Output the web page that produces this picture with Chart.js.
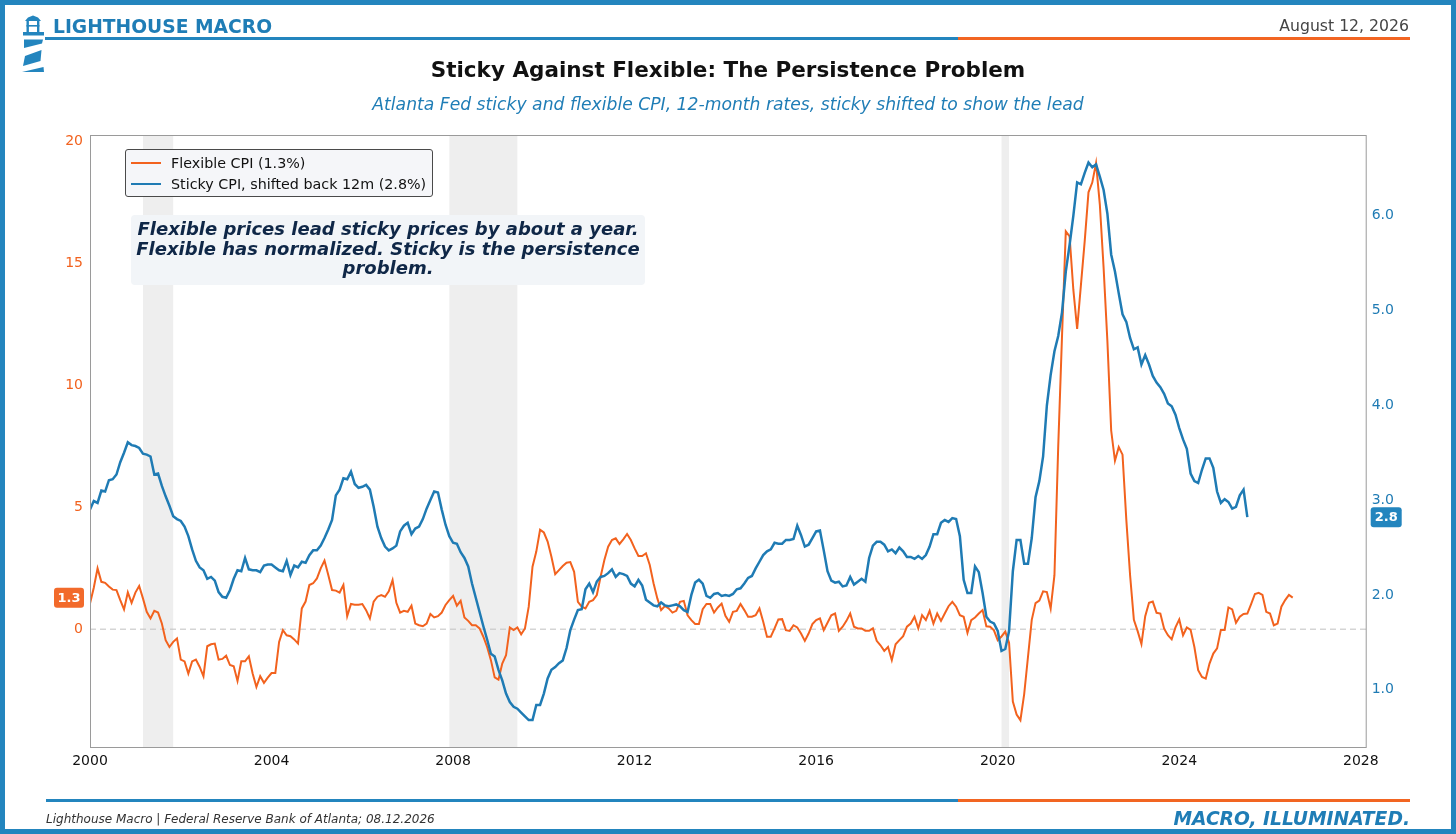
<!DOCTYPE html>
<html>
<head>
<meta charset="utf-8">
<title>Sticky Against Flexible</title>
<script src="https://cdn.jsdelivr.net/npm/chart.js@4.4.1/dist/chart.umd.min.js"></script>
<style>
  html, body { margin: 0; padding: 0; background: #fff; }
  body { width: 1456px; height: 834px; position: relative; overflow: hidden; font-family: 'DejaVu Sans', sans-serif; }
  #wrap { position: absolute; left: 0; top: 0; width: 1456px; height: 834px; }
  .abs { position: absolute; white-space: nowrap; line-height: 1; }
  #frame { position: absolute; left: 0; top: 0; width: 1456px; height: 834px; box-sizing: border-box; border: 5px solid #2385BE; pointer-events: none; }
  .rule { position: absolute; height: 3px; }
  #legend { position: absolute; left: 125px; top: 149px; width: 306px; height: 46px; border: 1px solid #4a4a4a; border-radius: 3px; background: rgba(244,246,249,0.95); }
  .legRow { position: absolute; left: 5px; height: 20px; font-size: 14.3px; color: #111; line-height: 20px; white-space: nowrap; }
  .legRow span.sw { display: inline-block; width: 30px; height: 2.5px; vertical-align: middle; margin-right: 10px; position: relative; top: -1px; }
  #note { position: absolute; left: 131px; top: 215px; width: 514px; height: 70px; background: #f2f5f8; border-radius: 4px; }
  #noteText { position: absolute; left: 131px; top: 219px; width: 514px; text-align: center; font-size: 18px; font-weight: bold; font-style: italic; color: #0f2747; line-height: 19.6px; }
</style>
</head>
<body>
<div id="wrap"><canvas id="chartPicture" width="1456" height="834"></canvas></div>

<svg class="abs" style="left:0;top:0" width="60" height="80" viewBox="0 0 60 80">
  <g fill="#2385BE">
    <polygon points="25,21 28,17.5 33,15.5 38,17.5 41,21"/>
    <rect x="26.5" y="21" width="2.4" height="11"/>
    <rect x="37" y="21" width="2.4" height="11"/>
    <rect x="26.5" y="25" width="12.9" height="1.6"/>
    <rect x="23" y="32" width="21" height="3.5"/>
    <polygon points="24,39.5 43,39.5 42,43.5 24,48"/>
    <polygon points="25,56 41.5,50 40.5,61 23,66"/>
    <polygon points="22,72 44,72 43.5,67"/>
  </g>
</svg>
<div class="abs" style="left:53px;top:17.5px;font-size:18.7px;font-weight:bold;color:#1F7DB6;">LIGHTHOUSE MACRO</div>
<div class="abs" style="right:47px;top:17.5px;font-size:15.7px;color:#444;">August 12, 2026</div>
<div class="rule" style="left:45px;top:36.5px;width:913px;background:#2385BE;"></div>
<div class="rule" style="left:958px;top:36.5px;width:452px;background:#F26522;"></div>

<div class="abs" style="left:0;width:1456px;text-align:center;top:59px;font-size:21.5px;font-weight:bold;color:#111;">Sticky Against Flexible: The Persistence Problem</div>
<div class="abs" style="left:0;width:1456px;text-align:center;top:96px;font-size:17.2px;font-style:italic;color:#1F7DB6;">Atlanta Fed sticky and flexible CPI, 12-month rates, sticky shifted to show the lead</div>

<div id="legend">
  <div class="legRow" style="top:3px;"><span class="sw" id="sw1"></span><span id="leg1"></span></div>
  <div class="legRow" style="top:24px;"><span class="sw" id="sw2"></span><span id="leg2"></span></div>
</div>
<div id="note"></div>
<div id="noteText">Flexible prices lead sticky prices by about a year.<br>Flexible has normalized. Sticky is the persistence<br>problem.</div>

<div class="rule" style="left:46px;top:799px;width:912px;background:#2385BE;"></div>
<div class="rule" style="left:958px;top:799px;width:452px;background:#F26522;"></div>
<div class="abs" style="left:46px;top:813px;font-size:12px;font-style:italic;color:#333;">Lighthouse Macro | Federal Reserve Bank of Atlanta; 08.12.2026</div>
<div class="abs" style="right:46px;top:809.5px;font-size:18.7px;font-weight:bold;font-style:italic;color:#1F7DB6;">MACRO, ILLUMINATED.</div>
<div id="frame"></div>

<script>
const orange = '#F2621E';
const blue = '#1F7BB4';

const startYear = 2000;

// Flexible CPI, 12-month %, monthly from Jan 2000
const flexibleCpi = [
    1.05, 1.7, 2.49, 1.94, 1.9, 1.75, 1.62, 1.6, 1.19, 0.81,
    1.51, 1.08, 1.5, 1.77, 1.26, 0.71, 0.44, 0.75, 0.68, 0.23,
    -0.45, -0.73, -0.52, -0.38, -1.25, -1.32, -1.82, -1.32, -1.25, -1.55,
    -1.93, -0.70, -0.62, -0.59, -1.25, -1.22, -1.09, -1.47, -1.52, -2.12,
    -1.32, -1.32, -1.11, -1.82, -2.37, -1.93, -2.2, -1.99, -1.8, -1.8,
    -0.52, -0.04, -0.25, -0.29, -0.42, -0.59, 0.85, 1.13, 1.81, 1.88,
    2.08, 2.49, 2.81, 2.22, 1.6, 1.58, 1.5, 1.81, 0.53, 1.03,
    1.0, 1.0, 1.03, 0.78, 0.44, 1.13, 1.33, 1.4, 1.33, 1.55,
    2.01, 1.08, 0.68, 0.75, 0.71, 0.96, 0.23, 0.16, 0.12, 0.23,
    0.62, 0.48, 0.53, 0.68, 0.99, 1.19, 1.36, 0.96, 1.16, 0.48,
    0.34, 0.16, 0.16, 0.03, -0.31, -0.73, -1.27, -1.98, -2.07, -1.41,
    -1.07, 0.07, -0.04, 0.07, -0.21, 0.03, 0.92, 2.56, 3.18, 4.07,
    3.96, 3.59, 2.97, 2.25, 2.42, 2.59, 2.72, 2.75, 2.35, 1.12,
    0.92, 0.85, 1.12, 1.19, 1.40, 2.15, 2.83, 3.38, 3.65, 3.72,
    3.49, 3.68, 3.90, 3.65, 3.31, 3.00, 3.00, 3.11, 2.63, 1.88,
    1.26, 0.78, 0.95, 0.85, 0.68, 0.75, 1.12, 1.16, 0.57, 0.37,
    0.21, 0.21, 0.82, 1.03, 1.03, 0.68, 0.89, 1.05, 0.55, 0.30,
    0.71, 0.75, 1.03, 0.78, 0.51, 0.51, 0.57, 0.85, 0.30, -0.31,
    -0.31, 0.03, 0.40, 0.41, -0.04, -0.07, 0.16, 0.07, -0.18, -0.48,
    -0.18, 0.21, 0.37, 0.44, -0.04, 0.26, 0.57, 0.64, -0.07, 0.10,
    0.34, 0.64, 0.10, 0.03, 0.03, -0.07, -0.07, 0.03, -0.48, -0.66,
    -0.89, -0.73, -1.27, -0.62, -0.45, -0.29, 0.10, 0.23, 0.51, 0.03,
    0.57, 0.37, 0.75, 0.23, 0.64, 0.34, 0.64, 0.94, 1.12, 0.92,
    0.57, 0.51, -0.15, 0.37, 0.48, 0.64, 0.78, 0.12, 0.10, -0.05,
    -0.45, -0.3, -0.1, -0.55, -2.97, -3.5, -3.73, -2.66, -1.14, 0.38,
    1.07, 1.17, 1.55, 1.52, 0.84, 2.21, 7.5, 12.0, 16.3, 16.1,
    13.9, 12.3, 14.1, 15.9, 17.9, 18.3, 19.1, 17.4, 14.8, 11.8,
    8.14, 6.9, 7.46, 7.15, 4.49, 2.21, 0.38, -0.08, -0.61, 0.53,
    1.08, 1.13, 0.67, 0.64, 0.02, -0.25, -0.42, 0.07, 0.40, -0.25,
    0.07, -0.03, -0.73, -1.68, -1.96, -2.03, -1.41, -1.0, -0.79, -0.03,
    -0.03, 0.89, 0.81, 0.26, 0.51, 0.62, 0.64, 1.03, 1.44, 1.49,
    1.40, 0.71, 0.64, 0.16, 0.23, 0.92, 1.19, 1.40, 1.29
];

// Sticky CPI, 12-month %, shifted back 12 months, monthly from Jan 2000
const stickyCpiShifted = [
    2.90, 2.99, 2.97, 3.10, 3.09, 3.21, 3.22, 3.27, 3.40, 3.50,
    3.61, 3.58, 3.57, 3.55, 3.49, 3.48, 3.46, 3.27, 3.28, 3.15,
    3.04, 2.94, 2.83, 2.80, 2.78, 2.72, 2.62, 2.48, 2.36, 2.29,
    2.26, 2.17, 2.19, 2.15, 2.03, 1.98, 1.97, 2.05, 2.17, 2.26,
    2.25, 2.39, 2.27, 2.26, 2.26, 2.24, 2.31, 2.32, 2.32, 2.29,
    2.26, 2.25, 2.36, 2.21, 2.31, 2.29, 2.35, 2.34, 2.42, 2.47,
    2.47, 2.52, 2.60, 2.69, 2.79, 3.05, 3.11, 3.23, 3.22, 3.30,
    3.17, 3.13, 3.14, 3.16, 3.11, 2.93, 2.72, 2.60, 2.51, 2.47,
    2.49, 2.52, 2.67, 2.73, 2.76, 2.64, 2.70, 2.72, 2.80, 2.91,
    3.00, 3.09, 3.08, 2.90, 2.74, 2.62, 2.55, 2.54, 2.45, 2.39,
    2.30, 2.12, 1.97, 1.82, 1.67, 1.53, 1.38, 1.35, 1.21, 1.10,
    0.96, 0.87, 0.82, 0.80, 0.76, 0.72, 0.68, 0.68, 0.84, 0.84,
    0.96, 1.12, 1.21, 1.24, 1.28, 1.31, 1.44, 1.63, 1.74, 1.84,
    1.85, 2.06, 2.12, 2.03, 2.14, 2.19, 2.20, 2.23, 2.27, 2.19,
    2.23, 2.22, 2.20, 2.12, 2.09, 2.16, 2.10, 1.95, 1.92, 1.89,
    1.88, 1.92, 1.89, 1.88, 1.89, 1.90, 1.88, 1.84, 1.82, 2.00,
    2.13, 2.16, 2.12, 1.99, 1.97, 2.01, 2.02, 1.99, 2.00, 1.99,
    2.01, 2.06, 2.07, 2.12, 2.18, 2.20, 2.28, 2.35, 2.42, 2.46,
    2.48, 2.55, 2.54, 2.54, 2.58, 2.58, 2.59, 2.73, 2.63, 2.51,
    2.53, 2.60, 2.67, 2.68, 2.47, 2.25, 2.15, 2.13, 2.14, 2.09,
    2.10, 2.19, 2.11, 2.14, 2.17, 2.14, 2.39, 2.52, 2.56, 2.56,
    2.53, 2.46, 2.48, 2.44, 2.50, 2.46, 2.40, 2.40, 2.38, 2.41,
    2.38, 2.42, 2.51, 2.64, 2.64, 2.76, 2.79, 2.77, 2.81, 2.80,
    2.62, 2.16, 2.02, 2.02, 2.30, 2.24, 2.02, 1.77, 1.72, 1.70,
    1.62, 1.41, 1.43, 1.62, 2.25, 2.58, 2.58, 2.33, 2.33, 2.60,
    3.03, 3.20, 3.46, 4.00, 4.32, 4.57, 4.73, 4.98, 5.41, 5.69,
    6.00, 6.35, 6.33, 6.45, 6.56, 6.51, 6.54, 6.41, 6.27, 6.02,
    5.59, 5.41, 5.18, 4.96, 4.88, 4.71, 4.59, 4.61, 4.43, 4.53,
    4.43, 4.31, 4.24, 4.19, 4.12, 4.02, 3.99, 3.90, 3.76, 3.64,
    3.54, 3.28, 3.20, 3.18, 3.32, 3.44, 3.44, 3.34, 3.09, 2.97,
    3.01, 2.98, 2.91, 2.93, 3.05, 3.11, 2.82
];

// NBER recessions, as decimal years
const recessionStart = [2001.167, 2007.917, 2020.083];
const recessionEnd = [2001.833, 2009.417, 2020.25];

const yearTicks = [2000, 2004, 2008, 2012, 2016, 2020, 2024, 2028];
const flexTicks = [0, 5, 10, 15, 20];
const stickyTicks = [1, 2, 3, 4, 5, 6];

const flexLast = flexibleCpi[flexibleCpi.length - 1];
const stickyLast = stickyCpiShifted[stickyCpiShifted.length - 1];

document.getElementById("leg1").textContent = `Flexible CPI (${flexLast.toFixed(1)}%)`;
document.getElementById("leg2").textContent = `Sticky CPI, shifted back 12m (${stickyLast.toFixed(1)}%)`;
document.getElementById("sw1").style.background = orange;
document.getElementById("sw2").style.background = blue;

const toPoints = (values) => values.map((v, i) => ({x: startYear + i / 12, y: v}));

function drawTag(ctx, left, width, cy, text, fill)
{
    ctx.fillStyle = fill;
    ctx.beginPath();
    ctx.roundRect(left, cy - 10, width, 20, 3);
    ctx.fill();
    ctx.fillStyle = '#fff';
    ctx.font = "bold 13px 'DejaVu Sans'";
    ctx.textAlign = 'center';
    ctx.textBaseline = 'middle';
    ctx.fillText(text, left + width / 2, cy + 0.5);
}

const decorPlugin =
{
    id: 'decor',
    beforeDatasetsDraw(chart)
    {
        const {ctx, chartArea: a, scales} = chart;
        ctx.save();
        ctx.fillStyle = 'rgba(0,0,0,0.065)';
        for(let i = 0; i < recessionStart.length; i++)
        {
            const x0 = scales.x.getPixelForValue(recessionStart[i]);
            const x1 = scales.x.getPixelForValue(recessionEnd[i]);
            ctx.fillRect(x0, a.top, x1 - x0, a.bottom - a.top);
        }
        const y0 = scales.y.getPixelForValue(0);
        ctx.strokeStyle = '#c0c0c0';
        ctx.lineWidth = 1;
        ctx.setLineDash([6, 4]);
        ctx.beginPath();
        ctx.moveTo(a.left, y0);
        ctx.lineTo(a.right, y0);
        ctx.stroke();
        ctx.restore();
    },
    afterDraw(chart)
    {
        const {ctx, chartArea: a, scales} = chart;
        ctx.save();
        ctx.strokeStyle = '#9a9a9a';
        ctx.lineWidth = 1;
        ctx.strokeRect(a.left + 0.5, a.top + 0.5, a.right - a.left - 1, a.bottom - a.top - 1);
        drawTag(ctx, 54, 30, scales.y.getPixelForValue(flexLast), flexLast.toFixed(1), '#F26A2B');
        drawTag(ctx, a.right + 4, 31, scales.y1.getPixelForValue(stickyLast), stickyLast.toFixed(1), '#2385BE');
        ctx.restore();
    }
};

Chart.defaults.font.family = "'DejaVu Sans', sans-serif";

const context = document.getElementById("chartPicture");

const configObject =
{
    type: 'line',
    data:
    {
        datasets:
        [
            {
                label: 'Flexible CPI',
                data: toPoints(flexibleCpi),
                borderColor: orange,
                borderWidth: 2,
                pointRadius: 0,
                yAxisID: 'y',
                order: 1,
            },
            {
                label: 'Sticky CPI, shifted back 12m',
                data: toPoints(stickyCpiShifted),
                borderColor: blue,
                borderWidth: 2.5,
                pointRadius: 0,
                yAxisID: 'y1',
                order: 0,
            }
        ],
    },
    options:
    {
        responsive: false,
        animation: false,
        layout: { padding: { top: 135, bottom: 56, left: 0, right: 0 } },
        plugins:
        {
            legend: { display: false },
            tooltip: { enabled: false },
        },
        scales:
        {
            x:
            {
                type: 'linear',
                min: 2000,
                max: 2028.13,
                afterBuildTicks: (scale) => { scale.ticks = yearTicks.map(v => ({value: v})); },
                afterFit: (scale) => { scale.height = 30; },
                grid: { display: false, drawTicks: false },
                border: { display: false },
                ticks: { color: '#111', font: { size: 14 }, padding: 5, maxRotation: 0, callback: (v) => String(v) },
            },
            y:
            {
                position: 'left',
                min: -4.87,
                max: 20.25,
                afterBuildTicks: (scale) => { scale.ticks = flexTicks.map(v => ({value: v})); },
                afterFit: (scale) => { scale.width = 90; },
                grid: { display: false, drawTicks: false },
                border: { display: false },
                ticks: { color: orange, font: { size: 14 }, padding: 7, callback: (v) => String(v) },
            },
            y1:
            {
                position: 'right',
                min: 0.386,
                max: 6.85,
                afterBuildTicks: (scale) => { scale.ticks = stickyTicks.map(v => ({value: v})); },
                afterFit: (scale) => { scale.width = 89.3; },
                grid: { display: false, drawTicks: false },
                border: { display: false },
                ticks: { color: blue, font: { size: 14 }, padding: 5, callback: (v) => v.toFixed(1) },
            }
        }
    },
    plugins: [decorPlugin]
};

const myChart = new Chart(context, configObject);
</script>
</body>
</html>
